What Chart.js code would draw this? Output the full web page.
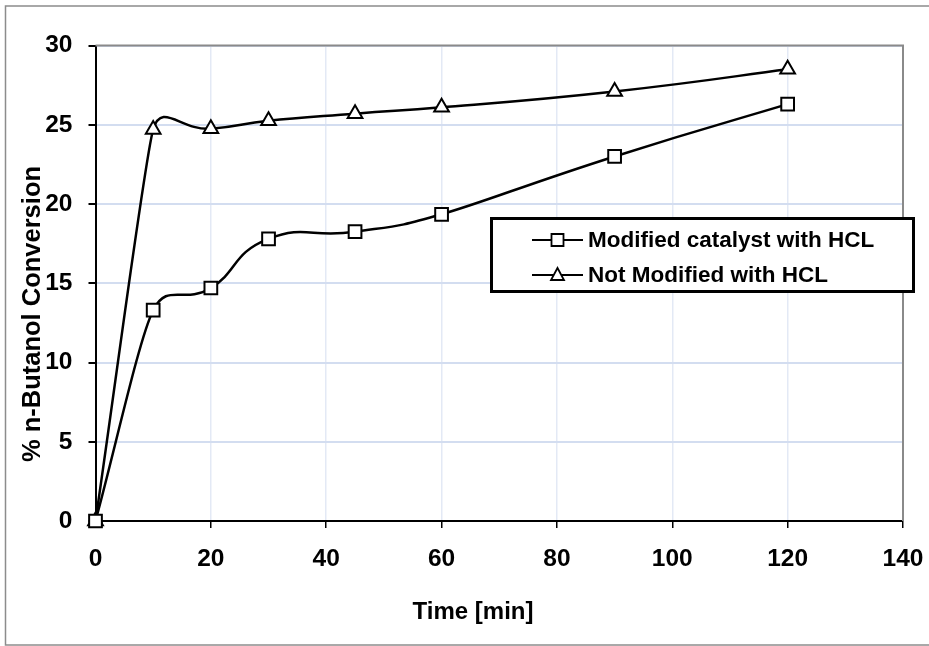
<!DOCTYPE html>
<html>
<head>
<meta charset="utf-8">
<title>n-Butanol conversion</title>
<script src="https://cdn.jsdelivr.net/npm/chart.js@4.4.1/dist/chart.umd.min.js"></script>
<style>
  html, body { margin: 0; padding: 0; background: #fff; }
  #wrap { width: 929px; height: 646px; }
</style>
</head>
<body>
<div id="wrap"><canvas id="conversionChart" width="929" height="646"></canvas></div>
<script>
'use strict';

/* ── DATA ── */
const timeMin      = [0, 10, 20, 30, 45, 60, 90, 120];
const modifiedHCL  = [0, 13.3, 14.7, 17.8, 18.25, 19.35, 23.0, 26.3];
const notModified  = [0, 24.7, 24.75, 25.25, 25.7, 26.1, 27.1, 28.5];
const seriesLabels = ['Modified catalyst with HCL', 'Not Modified with HCL'];
const xTicks = [0, 20, 40, 60, 80, 100, 120, 140];
const yTicks = [0, 5, 10, 15, 20, 25, 30];
const xTitle = 'Time [min]';
const yTitle = '% n-Butanol Conversion';

const FONT = "Arial, 'Liberation Sans', sans-serif";

const toPoints = (ys) => timeMin.map((t, i) => ({ x: t, y: ys[i] }));

/* ── PLUGINS ── */
// white page + thin grey frame round the whole chart
const pageFrame = {
  id: 'pageFrame',
  beforeDraw(chart) {
    const ctx = chart.ctx;
    ctx.save();
    ctx.fillStyle = '#fff';
    ctx.fillRect(0, 0, chart.width, chart.height);
    ctx.strokeStyle = '#8c8c8c';
    ctx.lineWidth = 1.5;
    ctx.strokeRect(5.5, 6, chart.width + 10, chart.height - 7);
    ctx.restore();
  },
};

// grey top / right edges of the plot area (Excel style)
const plotBorder = {
  id: 'plotBorder',
  beforeDatasetsDraw(chart) {
    const { ctx, chartArea: a } = chart;
    ctx.save();
    ctx.strokeStyle = '#8a8a8a';
    ctx.lineWidth = 2;
    ctx.beginPath();
    ctx.moveTo(a.left, a.top);
    ctx.lineTo(a.right, a.top);
    ctx.lineTo(a.right, a.bottom);
    ctx.stroke();
    ctx.restore();
  },
};

// Excel-like smoothing: tangent along (next - prev), handle length from the
// shorter neighbouring chord, so long straight runs stay straight.
const excelSmoothing = {
  id: 'excelSmoothing',
  beforeDatasetDraw(chart, args) {
    const meta = args.meta;
    const line = meta.dataset;
    if (!line || !line.updateControlPoints) return;
    line.updateControlPoints(chart.chartArea, meta.iScale ? meta.iScale.axis : 'x');
    const pts = meta.data;
    const k = 0.52;
    const n = pts.length;
    const dist = (a, b) => Math.hypot(b.x - a.x, b.y - a.y);
    for (let i = 0; i < n; i++) {
      const p = pts[i];
      const prev = pts[i - 1];
      const next = pts[i + 1];
      if (!prev || !next) {
        const other = prev || next;
        const d = dist(p, other);
        const ux = (other.x - p.x) / d, uy = (other.y - p.y) / d;
        const L = d / 3;
        p.cp1x = p.cp2x = p.x + ux * L;
        p.cp1y = p.cp2y = p.y + uy * L;
        continue;
      }
      const tx = next.x - prev.x, ty = next.y - prev.y;
      const tl = Math.hypot(tx, ty) || 1;
      const L = k * Math.min(dist(prev, p), dist(p, next));
      p.cp1x = p.x - tx / tl * L;
      p.cp1y = p.y - ty / tl * L;
      p.cp2x = p.x + tx / tl * L;
      p.cp2y = p.y + ty / tl * L;
    }
  },
};

// axis titles, placed where the original had them
const axisTitles = {
  id: 'axisTitles',
  afterDraw(chart) {
    const ctx = chart.ctx;
    ctx.save();
    ctx.fillStyle = '#000';
    ctx.textAlign = 'center';
    ctx.textBaseline = 'middle';
    ctx.font = 'bold 24px ' + FONT;
    ctx.fillText(xTitle, 473, 612);
    ctx.translate(33, 314);
    ctx.rotate(-Math.PI / 2);
    ctx.font = 'bold 25.5px ' + FONT;
    ctx.fillText(yTitle, 0, 0);
    ctx.restore();
  },
};

// boxed legend sitting over the plot
const boxLegend = {
  id: 'boxLegend',
  afterDraw(chart) {
    const ctx = chart.ctx;
    ctx.save();
    ctx.fillStyle = '#fff';
    ctx.fillRect(491, 218, 423, 74);
    ctx.strokeStyle = '#000';
    ctx.lineWidth = 3;
    ctx.strokeRect(491.5, 218.5, 422, 73);

    const rows = [240, 275];
    chart.data.datasets.forEach((ds, i) => {
      const y = rows[i];
      ctx.strokeStyle = '#000';
      ctx.lineWidth = 2;
      ctx.beginPath();
      ctx.moveTo(532, y);
      ctx.lineTo(583, y);
      ctx.stroke();

      ctx.fillStyle = '#fff';
      ctx.lineWidth = 1.8;
      ctx.beginPath();
      if (ds.pointStyle === 'rect') {
        ctx.rect(551.5, y - 6, 12, 12);
      } else {
        ctx.moveTo(557.5, y - 7);
        ctx.lineTo(564, y + 5);
        ctx.lineTo(551, y + 5);
        ctx.closePath();
      }
      ctx.fill();
      ctx.stroke();

      ctx.fillStyle = '#000';
      ctx.font = 'bold 22.5px ' + FONT;
      ctx.textAlign = 'left';
      ctx.textBaseline = 'middle';
      ctx.fillText(ds.label, 588, y + 1);
    });
    ctx.restore();
  },
};

/* ── CHART ── */
const tickFont = { family: FONT, size: 24.5, weight: 'bold' };

new Chart(document.getElementById('conversionChart'), {
  type: 'line',
  data: {
    datasets: [
      {
        label: seriesLabels[0],
        data: toPoints(modifiedHCL),
        borderColor: '#000',
        borderWidth: 2.5,
        tension: 0.4,
        pointStyle: 'rect',
        pointRadius: 9,
        pointBorderWidth: 2,
        pointBorderColor: '#000',
        pointBackgroundColor: '#fff',
        clip: false,
      },
      {
        label: seriesLabels[1],
        data: toPoints(notModified),
        borderColor: '#000',
        borderWidth: 2.5,
        tension: 0.4,
        pointStyle: 'triangle',
        pointRadius: 8.5,
        pointBorderWidth: 2,
        pointBorderColor: '#000',
        pointBackgroundColor: '#fff',
        clip: false,
      },
    ],
  },
  options: {
    responsive: false,
    devicePixelRatio: 1,
    animation: false,
    layout: { padding: { left: 0, top: 45.5, right: 26, bottom: 0 } },
    plugins: {
      legend: { display: false },
      tooltip: { enabled: false },
    },
    scales: {
      x: {
        type: 'linear',
        min: xTicks[0],
        max: xTicks[xTicks.length - 1],
        afterFit: (s) => { s.height = 125; s.paddingLeft = 0; s.paddingRight = 0; },
        afterBuildTicks: (s) => { s.ticks = xTicks.map(v => ({ value: v })); },
        ticks: { font: tickFont, color: '#000', padding: 17 },
        grid: { color: '#e3e9f5', lineWidth: 1.5, tickColor: '#000', tickLength: 7 },
        border: { color: '#000', width: 2 },
      },
      y: {
        type: 'linear',
        min: yTicks[0],
        max: yTicks[yTicks.length - 1],
        afterFit: (s) => { s.width = 95.5; },
        afterBuildTicks: (s) => { s.ticks = yTicks.map(v => ({ value: v })); },
        ticks: { font: tickFont, color: '#000', padding: 16 },
        grid: { color: '#d3ddf0', lineWidth: 2, tickColor: '#000', tickLength: 7 },
        border: { color: '#000', width: 2 },
      },
    },
  },
  plugins: [pageFrame, plotBorder, excelSmoothing, axisTitles, boxLegend],
});
</script>
</body>
</html>
